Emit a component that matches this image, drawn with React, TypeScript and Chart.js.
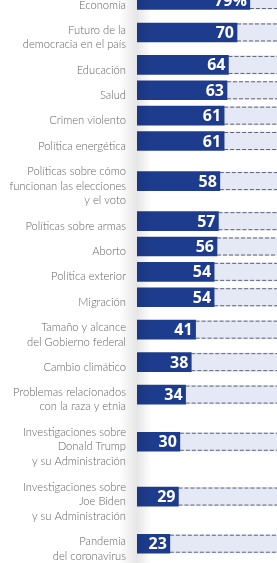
import React, { useEffect, useRef } from "react";
import { Chart, registerables } from "chart.js";

Chart.register(...registerables);

const categories: string[][] = [
  ["Economía"],
  ["Futuro de la", "democracia en el país"],
  ["Educación"],
  ["Salud"],
  ["Crimen violento"],
  ["Política energética"],
  ["Políticas sobre cómo", "funcionan las elecciones", "y el voto"],
  ["Políticas sobre armas"],
  ["Aborto"],
  ["Política exterior"],
  ["Migración"],
  ["Tamaño y alcance", "del Gobierno federal"],
  ["Cambio climático"],
  ["Problemas relacionados", "con la raza y etnia"],
  ["Investigaciones sobre", "Donald Trump", "y su Administración"],
  ["Investigaciones sobre", "Joe Biden", "y su Administración"],
  ["Pandemia", "del coronavirus"],
];

const values: number[] = [79, 70, 64, 63, 61, 61, 58, 57, 56, 54, 54, 41, 38, 34, 30, 29, 23];

const valueLabels: string[] = values.map((v, i) => (i === 0 ? `${v}%` : `${v}`));

// Row slot height grows with the number of lines in the category label.
const SLOT = [0, 25, 39, 54];
function rowPositions(): number[] {
  const out: number[] = [];
  let p = 0;
  categories.forEach((c, i) => {
    if (i > 0) p += (SLOT[categories[i - 1].length] + SLOT[c.length]) / 2;
    out.push(p);
  });
  return out;
}

const BAR = "#1e3c8e";
const TRACK = "#e5e8f5";
const DASH = "#5d6276";
const LABEL = "#646464";
const LINE_H = 14.5;

const trackPlugin = {
  id: "tracks",
  beforeDatasetsDraw(chart: any) {
    const { ctx, chartArea } = chart;
    const meta = chart.getDatasetMeta(0);
    ctx.save();
    meta.data.forEach((el: any) => {
      const { x, y, height } = el.getProps(["x", "y", "height"], true);
      const top = y - height / 2;
      const bot = y + height / 2;
      ctx.fillStyle = TRACK;
      ctx.fillRect(x, top, chartArea.right - x, height);
      ctx.strokeStyle = DASH;
      ctx.lineWidth = 1;
      ctx.setLineDash([4, 2]);
      ctx.beginPath();
      ctx.moveTo(x, top + 1);
      ctx.lineTo(chartArea.right, top + 1);
      ctx.moveTo(x, bot - 1);
      ctx.lineTo(chartArea.right, bot - 1);
      ctx.stroke();
    });
    ctx.restore();
  },
  afterDatasetsDraw(chart: any) {
    const { ctx, chartArea, height: H } = chart;
    const meta = chart.getDatasetMeta(0);

    // soft page-fold shading at the left edge of the plot
    ctx.save();
    const g = ctx.createLinearGradient(chartArea.left - 18, 0, chartArea.left + 14, 0);
    g.addColorStop(0, "rgba(0,0,0,0)");
    g.addColorStop(0.56, "rgba(0,0,0,0.10)");
    g.addColorStop(1, "rgba(0,0,0,0)");
    ctx.fillStyle = g;
    ctx.fillRect(chartArea.left - 18, 0, 32, H);
    ctx.restore();

    ctx.save();
    ctx.fillStyle = "#ffffff";
    ctx.font = "bold 16px 'Open Sans', sans-serif";
    ctx.textAlign = "right";
    ctx.textBaseline = "middle";
    meta.data.forEach((el: any, i: number) => {
      const { x, y } = el.getProps(["x", "y"], true);
      ctx.fillText(valueLabels[i], x - 3, y + 1);
    });
    ctx.restore();

    // category labels, right aligned to the left of the plot area
    ctx.save();
    ctx.fillStyle = LABEL;
    ctx.font = "300 11.2px Lato, 'Open Sans', sans-serif";
    ctx.textAlign = "right";
    ctx.textBaseline = "middle";
    meta.data.forEach((el: any, i: number) => {
      const { y } = el.getProps(["y"], true);
      const lines = categories[i];
      const start = y + 5 - ((lines.length - 1) * LINE_H) / 2;
      lines.forEach((t, k) => ctx.fillText(t, chartArea.left - 11, start + k * LINE_H));
    });
    ctx.restore();
  },
};

export default function App() {
  const ref = useRef<HTMLCanvasElement>(null);
  useEffect(() => {
    const positions = rowPositions();
    const chart = new Chart(ref.current as HTMLCanvasElement, {
      type: "bar",
      data: {
        labels: categories.map((c) => c.join(" ")),
        datasets: [
          {
            data: values.map((v, i) => ({ x: v, y: positions[i] })) as any,
            backgroundColor: BAR,
            borderWidth: 0,
            barThickness: 19,
          },
        ],
      },
      options: {
        indexAxis: "y",
        animation: false,
        responsive: false,
        layout: { padding: { left: 137, right: 0, top: 0, bottom: 0 } },
        plugins: { legend: { display: false }, tooltip: { enabled: false } },
        scales: {
          x: { type: "linear", display: false, min: 0, max: 98 },
          y: { type: "linear", display: false, reverse: true, offset: false, min: 0, max: 555 },
        },
      },
      plugins: [trackPlugin],
    });
    return () => chart.destroy();
  }, []);
  return (
    <div style={{ position: "fixed", left: 0, top: 0, width: 277, height: 563, background: "#fff" }}>
      <canvas ref={ref} width={277} height={563} />
    </div>
  );
}
